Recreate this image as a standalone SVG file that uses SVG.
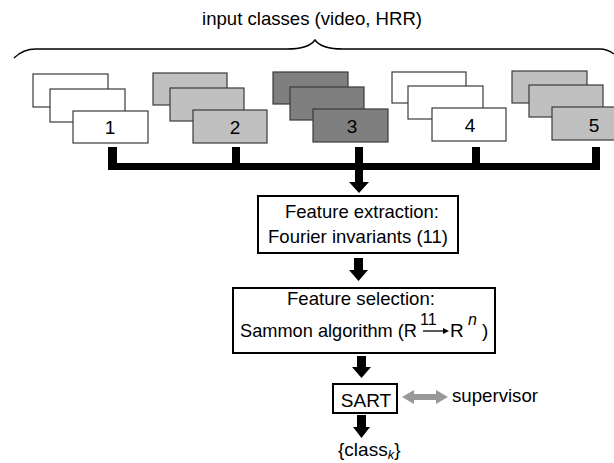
<svg xmlns="http://www.w3.org/2000/svg" width="614" height="463" viewBox="0 0 614 463">
<style>
text { font-family: "Liberation Sans", Arial, sans-serif; font-size: 19px; fill: #000; }
.card { stroke: #3a3a3a; stroke-width: 1.2; }
.w { fill: #ffffff; }
.g { fill: #c0c0c0; }
.d { fill: #7f7f7f; }
.box { fill: #ffffff; stroke: #000; stroke-width: 2; }
.lbl { text-anchor: middle; }
.blk { fill: #000; }
.sup { font-size: 16px; }
</style>
<rect width="614" height="463" fill="#ffffff"/>

<g id="title">
  <text x="312" y="25" text-anchor="middle" textLength="220" lengthAdjust="spacingAndGlyphs">input classes (video, HRR)</text>
  <path d="M14,58 C20,52 26,49 36,49 L287,49 C300,49 310,47 315,40 C320,47 330,49 343,49 L600,49 C606,49 610,51 614,54" fill="none" stroke="#000" stroke-width="1.4"/>
</g>

<g id="stack1">
  <rect class="card w" x="33" y="74" width="75" height="33"/>
  <rect class="card w" x="50" y="89" width="75" height="33"/>
  <rect class="card w" x="73" y="111" width="75" height="32"/>
  <text class="lbl" x="110" y="134">1</text>
</g>
<g id="stack2">
  <rect class="card g" x="153" y="73" width="74" height="32"/>
  <rect class="card g" x="170" y="88" width="74" height="33"/>
  <rect class="card g" x="193" y="110" width="74" height="33"/>
  <text class="lbl" x="235" y="134">2</text>
</g>
<g id="stack3">
  <rect class="card d" x="273" y="72" width="75" height="32"/>
  <rect class="card d" x="290" y="87" width="74" height="33"/>
  <rect class="card d" x="313" y="109" width="75" height="33"/>
  <text class="lbl" x="352" y="133" fill="#1a1a1a">3</text>
</g>
<g id="stack4">
  <rect class="card w" x="392" y="72" width="74" height="31"/>
  <rect class="card w" x="408" y="86" width="75" height="33"/>
  <rect class="card w" x="432" y="108" width="74" height="33"/>
  <text class="lbl" x="470" y="132">4</text>
</g>
<g id="stack5">
  <rect class="card g" x="512" y="71" width="75" height="32"/>
  <rect class="card g" x="529" y="85" width="74" height="32"/>
  <rect class="card g" x="552" y="107" width="74" height="33"/>
  <text class="lbl" x="594" y="132">5</text>
</g>

<g id="extraction">
  <rect class="box" x="258" y="196" width="200" height="57"/>
  <text class="lbl" x="362" y="218" textLength="154" lengthAdjust="spacingAndGlyphs">Feature extraction:</text>
  <text class="lbl" x="358" y="243" textLength="180" lengthAdjust="spacingAndGlyphs">Fourier invariants (11)</text>
</g>

<g id="selection">
  <rect class="box" x="233" y="288" width="262" height="65"/>
  <text class="lbl" x="361" y="305" textLength="148" lengthAdjust="spacingAndGlyphs">Feature selection:</text>
  <text x="240" y="337"><tspan textLength="177" lengthAdjust="spacingAndGlyphs">Sammon algorithm (R</tspan><tspan class="sup" x="420" y="325">11</tspan><tspan x="450" y="337">R</tspan><tspan class="sup" x="468" y="325" font-style="italic">n</tspan><tspan x="482" y="337">)</tspan></text>
  <line x1="423" y1="331" x2="444" y2="331" stroke="#000" stroke-width="1.3"/>
  <polygon points="449,331 443,328 443,334" fill="#000"/>
</g>

<g id="sart">
  <rect class="box" x="333" y="384" width="64" height="29"/>
  <text class="lbl" x="366" y="407">SART</text>
</g>

<g id="supervisor">
  <text x="452" y="402" textLength="86" lengthAdjust="spacingAndGlyphs">supervisor</text>
</g>

<g id="output">
  <text x="338" y="456">{class<tspan font-size="13" font-style="italic" dy="3">k</tspan><tspan dy="-3">}</tspan></text>
</g>

<g id="connectors">
  <rect class="blk" x="108" y="163" width="492" height="7"/>
  <rect class="blk" x="108" y="147" width="9" height="18"/>
  <rect class="blk" x="232" y="147" width="8" height="18"/>
  <rect class="blk" x="355" y="147" width="8" height="18"/>
  <rect class="blk" x="472" y="147" width="8" height="18"/>
  <rect class="blk" x="592" y="147" width="8" height="18"/>
  <polygon class="blk" points="355,168 363,168 363,182 369,182 359,193 349,182 355,182"/>
  <polygon class="blk" points="354,258 363,258 363,270 368,270 358.5,281 349,270 354,270"/>
  <polygon class="blk" points="357,356 366,356 366,367 371,367 361.5,378 352,367 357,367"/>
  <polygon class="blk" points="357,415 366,415 366,427 370,427 361.5,438 353,427 357,427"/>
  <polygon fill="#999999" points="402,397 414,390 414,394 436,394 436,390 448,397 436,404 436,400 414,400 414,404"/>
</g>
</svg>
